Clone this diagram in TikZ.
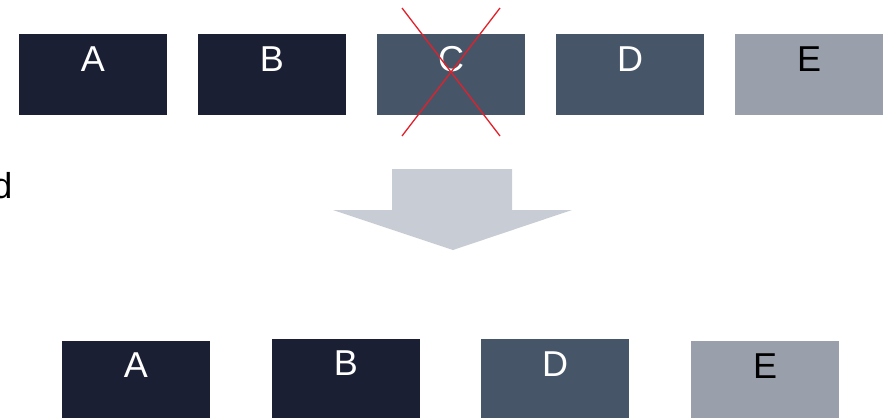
\documentclass[tikz,border=0pt]{standalone}
\usepackage{fontspec}
\setmainfont{Liberation Sans}
\definecolor{navy}{HTML}{1A1F33}
\definecolor{slate}{HTML}{475569}
\definecolor{steel}{HTML}{9AA0AB}
\definecolor{arrowgray}{HTML}{C8CCD4}
\definecolor{crossred}{HTML}{E3202A}
\begin{document}
\begin{tikzpicture}[x=1pt,y=-1pt,
  box/.style={minimum width=148pt, minimum height=81pt, inner sep=0pt, outer sep=0pt, draw=none, anchor=north west},
  lbl/.style={anchor=base, font=\fontsize{36}{40}\selectfont, inner sep=0pt}]
\useasboundingbox (0,0) rectangle (887,418);

% top row
\node[box, fill=navy]  (tA) at (19,34)  {};
\node[box, fill=navy]  (tB) at (198,34) {};
\node[box, fill=slate] (tC) at (377,34) {};
\node[box, fill=slate] (tD) at (556,34) {};
\node[box, fill=steel] (tE) at (735,34) {};
\node[lbl, text=white] (tAl) at ([yshift=-37pt]tA.north) {A};
\node[lbl, text=white] (tBl) at ([yshift=-37pt]tB.north) {B};
\node[lbl, text=white] (tCl) at ([yshift=-37pt]tC.north) {C};
\node[lbl, text=white] (tDl) at ([yshift=-37pt]tD.north) {D};
\node[lbl, text=black] (tEl) at ([yshift=-37pt]tE.north) {E};

% cross over C
\coordinate (x1) at (402,8);
\coordinate (x2) at (500,136);
\coordinate (x3) at (500,8);
\coordinate (x4) at (402,136);
\draw[crossred, line width=1.3pt] (x1) -- (x2);
\draw[crossred, line width=1.3pt] (x3) -- (x4);

% partly visible side text
\node[anchor=base east, font=\fontsize{36}{40}\selectfont, inner sep=0pt] (side) at (12.5,198) {d};

% down arrow
\fill[arrowgray] (392,169) -- (512,169) -- (512,210) -- (572,210) -- (453,250)
  -- (333,210) -- (392,210) -- cycle;

% bottom row
\node[box, fill=navy]  (bA) at (62,341)  {};
\node[box, fill=navy]  (bB) at (272,339) {};
\node[box, fill=slate] (bD) at (481,339) {};
\node[box, fill=steel] (bE) at (691,341) {};
\node[lbl, text=white] (bAl) at ([yshift=-36pt]bA.north) {A};
\node[lbl, text=white] (bBl) at ([yshift=-36pt]bB.north) {B};
\node[lbl, text=white] (bDl) at ([yshift=-37pt]bD.north) {D};
\node[lbl, text=black] (bEl) at ([yshift=-37pt]bE.north) {E};
\end{tikzpicture}
\end{document}
